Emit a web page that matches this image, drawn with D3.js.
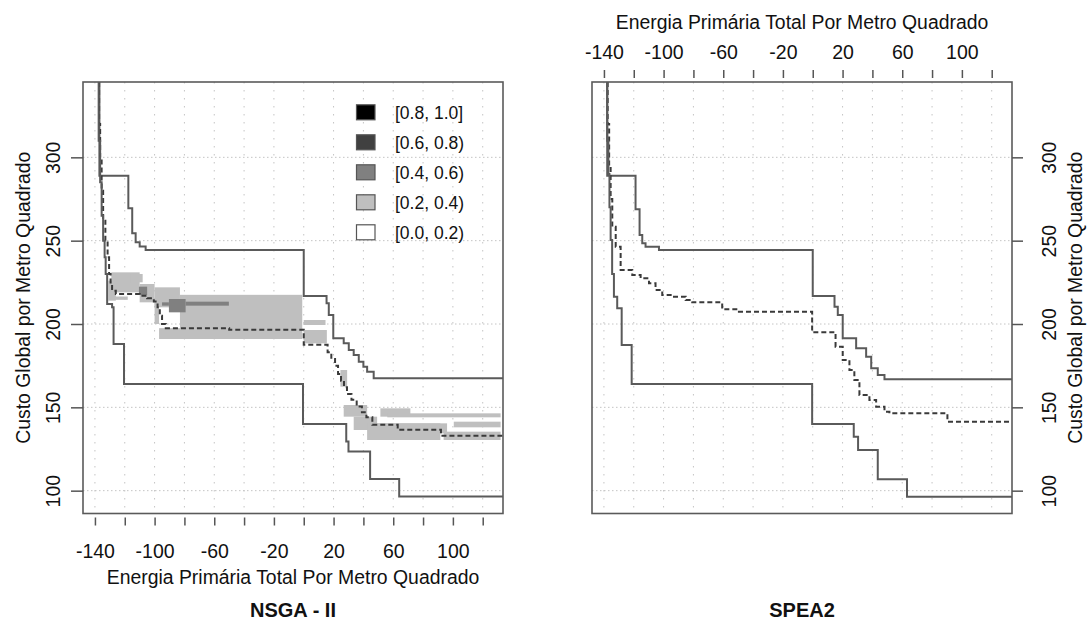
<!DOCTYPE html>
<html lang="pt">
<head>
<meta charset="utf-8">
<title>EAF: NSGA - II e SPEA2</title>
<script src="https://cdn.jsdelivr.net/npm/d3@7"></script>
<style>
  body { margin: 0; background: #fff; }
  svg { display: block; font-family: "Liberation Sans", Arial, sans-serif; }
  .axis path.domain { display: none; }
  .axis line { stroke: #555; stroke-width: 1.5; }
  .axis text { fill: #111; font-size: 19.5px; }
  .lab { fill: #111; font-size: 19.4px; }
  .title { fill: #111; font-size: 20px; font-weight: bold; }
</style>
</head>
<body>
<script>
// axes
var xTicks = [-140, -120, -100, -80, -60, -40, -20, 0, 20, 40, 60, 80, 100, 120];
var xTickLabels = [-140, -100, -60, -20, 20, 60, 100];
var yTicks = [100, 150, 200, 250, 300];
var xDomain = [-148, 133.6];
var yDomain = [86.3, 345.2];
var xTitle = "Energia Primária Total Por Metro Quadrado";
var yTitle = "Custo Global por Metro Quadrado";

// legend (attainment levels)
var levelNames = ["[0.8, 1.0]", "[0.6, 0.8)", "[0.4, 0.6)", "[0.2, 0.4)", "[0.0, 0.2)"];
var levelColors = ["#000000", "#404040", "#808080", "#bfbfbf", "#ffffff"];

// NSGA-II surfaces: at x the line drops to y
var nsgaBestX = [-137.5, -136.5, -135.5, -134.5, -133.5, -132.8, -131.8, -128.5, -127.5, -120.5, -0.5, 28.5, 30, 44.5, 64];
var nsgaBestY = [310, 285, 265, 250, 240, 230, 212, 210, 188, 164, 140, 129.5, 123.5, 107, 96.5];
var nsgaMedX = [-137.2, -136.5, -135.5, -134.5, -133, -131.5, -130.5, -129.5, -128.5, -126, -110, -105, -100.5, -98, -96.5, -95, -92.5, -50, 0, 16, 18.5, 21, 23, 25, 27, 29, 32, 35.5, 39, 42, 46, 63, 92];
var nsgaMedY = [320, 300, 280, 262, 250, 240, 230, 224, 220, 218, 217, 215.5, 213.5, 210, 205, 200, 197.5, 196.5, 187.5, 183, 179, 175, 170, 166, 162, 158, 154.5, 150.5, 147, 144, 139.5, 136.5, 133];
var nsgaWorstX = [-137, -117.6, -115, -112.7, -110, -106, 0, 15.3, 16.8, 19.8, 26.8, 30.2, 33.5, 36.9, 40, 42.5, 46.9];
var nsgaWorstY = [289, 269.4, 254.4, 249, 246.5, 244.4, 216.8, 212.4, 205.4, 191.4, 188.4, 184.4, 181.4, 177.4, 174.4, 171.4, 167.4];

// NSGA-II attained regions (level index into levelColors)
var nsgaShadeX0 = [-131, -129, -116, -110, -100, -83, -100, -97, -128, 0, 0, 24.6, 26.8, 33.5, 44.7, 42.5, 51.4, 56, 100.6, 93.8, -110.5, -90.4, -95, -79.2];
var nsgaShadeX1 = [-126, -110, -108, -100, -83, -1, -97, -1, -118, 14.6, 15.5, 29.1, 42.5, 49.2, 96.1, 91.6, 71.5, 132, 132, 132, -105, -79.2, -90.4, -50.2];
var nsgaShadeY0 = [214, 219, 225, 213, 210, 197, 200, 191, 214.5, 199.4, 188.4, 162.4, 144.4, 136.4, 134.4, 130.4, 144.4, 144, 138, 130.4, 217.4, 207, 211, 211];
var nsgaShadeY1 = [226, 231, 230, 224, 222, 217.5, 214, 197.5, 216.5, 202.4, 196.4, 172.4, 151.4, 144.4, 140.4, 140.4, 149.4, 146.4, 141.4, 135.4, 222.4, 215, 213, 213.4];
var nsgaShadeLevel = [3, 3, 3, 3, 3, 3, 3, 3, 3, 3, 3, 3, 3, 3, 3, 3, 3, 3, 3, 3, 2, 2, 2, 2];

// SPEA2 surfaces
var speaBestX = [-137.8, -137, -136.3, -135.5, -134.5, -133.3, -131.1, -128.1, -121.4, -0.4, 27.5, 30.4, 43.6, 63.2];
var speaBestY = [310, 290, 270, 250.4, 230, 216.4, 209.4, 187.4, 164, 140, 132.4, 124.4, 106.8, 96.4];
var speaMedX = [-137.5, -136.5, -135.5, -134.4, -132.1, -128.8, -121, -115.4, -109.8, -105.4, -100.9, -94.2, -85.2, -80.8, -60.7, -49.5, -0.4, 15.3, 20.1, 24.6, 27.9, 31.3, 38, 42.5, 48.1, 51.4, 90.3];
var speaMedY = [320, 295, 275, 258.4, 246.4, 232.4, 229.4, 227.4, 224.4, 220.4, 217.4, 216.4, 214.4, 213, 208.8, 207.4, 195, 186.4, 178.4, 172.4, 166.4, 157.4, 154.4, 150.4, 147.4, 146.4, 141.4];
var speaWorstX = [-137.8, -118.8, -116.1, -114.3, -112.1, -103.1, 0, 14.6, 16.8, 20.1, 29.1, 35.8, 39.2, 43.6, 48.1];
var speaWorstY = [289, 268.8, 253.4, 248.4, 246.4, 244.4, 216.8, 210.4, 205.4, 191.4, 185.4, 180.4, 173.4, 169.4, 166.8];

var W = 1088, H = 621;
var svg = d3.select("body").append("svg").attr("width", W).attr("height", H);

function zip(xs, ys) { return xs.map(function(v, i) { return [v, ys[i]]; }); }

function panel(cfg) {
  var x = d3.scaleLinear().domain(xDomain).range([cfg.left, cfg.left + 420]);
  var y = d3.scaleLinear().domain(yDomain).range([cfg.top + 431.5, cfg.top]);
  var g = svg.append("g");
  var clipId = "clip-" + cfg.id;
  svg.append("clipPath").attr("id", clipId).append("rect")
    .attr("x", x.range()[0]).attr("y", y.range()[1])
    .attr("width", 420).attr("height", 431.5);

  var inner = g.append("g").attr("clip-path", "url(#" + clipId + ")");

  // grid
  inner.selectAll(".vg").data(xTicks).enter().append("line")
    .attr("x1", function(d) { return x(d); }).attr("x2", function(d) { return x(d); })
    .attr("y1", y.range()[1]).attr("y2", y.range()[0])
    .attr("stroke", "#c4c4c4").attr("stroke-dasharray", "1.5,6.5");
  inner.selectAll(".hg").data(yTicks).enter().append("line")
    .attr("y1", function(d) { return y(d); }).attr("y2", function(d) { return y(d); })
    .attr("x1", x.range()[0]).attr("x2", x.range()[1])
    .attr("stroke", "#c4c4c4").attr("stroke-dasharray", "1.5,2.5");

  // attained regions
  if (cfg.shade) {
    var s = cfg.shade;
    inner.selectAll(".shade").data(s.x0).enter().append("rect")
      .attr("x", function(d, i) { return x(s.x0[i]); })
      .attr("width", function(d, i) { return x(s.x1[i]) - x(s.x0[i]); })
      .attr("y", function(d, i) { return y(s.y1[i]); })
      .attr("height", function(d, i) { return y(s.y0[i]) - y(s.y1[i]); })
      .attr("fill", function(d, i) { return levelColors[s.level[i]]; });
  }

  // attainment surfaces
  var line = d3.line().curve(d3.curveStepAfter)
    .x(function(d) { return x(d[0]); }).y(function(d) { return y(d[1]); });
  cfg.surfaces.forEach(function(sf) {
    var pts = zip(sf.xs, sf.ys);
    pts.unshift([sf.xs[0], yDomain[1]]);
    pts.push([xDomain[1], sf.ys[sf.ys.length - 1]]);
    inner.append("path").attr("d", line(pts))
      .attr("fill", "none")
      .attr("stroke", sf.dash ? "#3a3a3a" : "#5a5a5a")
      .attr("stroke-width", 2)
      .attr("stroke-dasharray", sf.dash ? "5,3" : null);
  });

  // box
  g.append("rect")
    .attr("x", x.range()[0]).attr("y", y.range()[1])
    .attr("width", 420).attr("height", 431.5)
    .attr("fill", "none").attr("stroke", "#5a5a5a").attr("stroke-width", 1.6);

  var fmtX = function(d) { return xTickLabels.indexOf(d) >= 0 ? d : ""; };

  if (cfg.xSide === "bottom") {
    var ax = g.append("g").attr("class", "axis")
      .attr("transform", "translate(0," + (y.range()[0] + 4) + ")")
      .call(d3.axisBottom(x).tickValues(xTicks).tickSize(8).tickFormat(fmtX));
    ax.selectAll("text").attr("dy", null).attr("y", 40.5);
    g.append("text").attr("class", "lab").attr("text-anchor", "middle")
      .attr("x", d3.mean(x.range())).attr("y", 583.5).text(xTitle);
  } else {
    var axt = g.append("g").attr("class", "axis")
      .attr("transform", "translate(0," + (y.range()[1] - 4) + ")")
      .call(d3.axisTop(x).tickValues(xTicks).tickSize(8).tickFormat(fmtX));
    axt.selectAll("text").attr("dy", null).attr("y", -19.5);
    g.append("text").attr("class", "lab").attr("text-anchor", "middle")
      .attr("x", d3.mean(x.range())).attr("y", 28.5).text(xTitle);
  }

  if (cfg.ySide === "left") {
    var ay = g.append("g").attr("class", "axis")
      .attr("transform", "translate(" + x.range()[0] + ",0)")
      .call(d3.axisLeft(y).tickValues(yTicks).tickSize(12));
    ay.selectAll("text").attr("dy", null).attr("x", 0).attr("y", -23.5)
      .attr("text-anchor", "middle").attr("transform", "rotate(-90)");
    g.append("text").attr("class", "lab").attr("text-anchor", "middle")
      .attr("transform", "translate(30," + d3.mean(y.range()) + ") rotate(-90)")
      .text(yTitle);
  } else {
    var ayr = g.append("g").attr("class", "axis")
      .attr("transform", "translate(" + x.range()[1] + ",0)")
      .call(d3.axisRight(y).tickValues(yTicks).tickSize(11));
    ayr.selectAll("text").attr("dy", null).attr("x", 0).attr("y", 43.5)
      .attr("text-anchor", "middle").attr("transform", "rotate(-90)");
    g.append("text").attr("class", "lab").attr("text-anchor", "middle")
      .attr("transform", "translate(1081.5," + d3.mean(y.range()) + ") rotate(-90)")
      .text(yTitle);
  }

  g.append("text").attr("class", "title").attr("text-anchor", "middle")
    .attr("x", d3.mean(x.range())).attr("y", 616.5).text(cfg.title);

  if (cfg.legend) {
    var lg = g.append("g");
    levelNames.forEach(function(name, i) {
      var cy = 112.3 + i * 30;
      lg.append("rect").attr("x", 356.5).attr("y", cy - 7.5)
        .attr("width", 18.5).attr("height", 15)
        .attr("fill", levelColors[i]).attr("stroke", "#555").attr("stroke-width", 1.2);
      lg.append("text").attr("class", "lab").style("font-size", "17.5px")
        .attr("x", 395).attr("y", cy + 6.3).text(name);
    });
  }
}

panel({
  id: "nsga", left: 83, top: 82, title: "NSGA - II",
  xSide: "bottom", ySide: "left", legend: true,
  shade: { x0: nsgaShadeX0, x1: nsgaShadeX1, y0: nsgaShadeY0, y1: nsgaShadeY1, level: nsgaShadeLevel },
  surfaces: [
    { xs: nsgaWorstX, ys: nsgaWorstY },
    { xs: nsgaMedX, ys: nsgaMedY, dash: true },
    { xs: nsgaBestX, ys: nsgaBestY }
  ]
});

panel({
  id: "spea", left: 592, top: 82, title: "SPEA2",
  xSide: "top", ySide: "right", legend: false,
  surfaces: [
    { xs: speaWorstX, ys: speaWorstY },
    { xs: speaMedX, ys: speaMedY, dash: true },
    { xs: speaBestX, ys: speaBestY }
  ]
});
</script>
</body>
</html>
